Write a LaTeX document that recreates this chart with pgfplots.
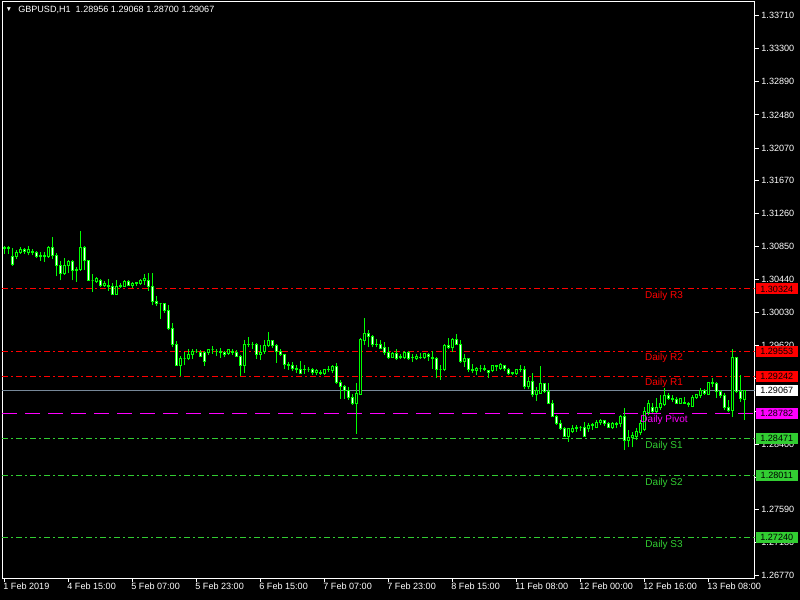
\documentclass[border=0pt]{standalone}
\usepackage{fontspec}
\setmainfont{Liberation Sans}
\usepackage{pgfplots}
\usepackage{pgfplotstable}
\pgfplotsset{compat=1.18}
\definecolor{mtlime}{RGB}{0,255,0}
\definecolor{mtred}{RGB}{255,0,0}
\definecolor{mtmag}{RGB}{255,0,255}
\definecolor{mtgreen}{RGB}{50,205,50}
\definecolor{mtgray}{RGB}{119,136,153}

\pgfplotstableread{
i o h l c
0 1.3082 1.3086 1.3076 1.3084
1 1.3084 1.3085 1.3076 1.3082
2 1.3073 1.3083 1.3061 1.3063
3 1.3072 1.3081 1.3069 1.3077
4 1.3077 1.3084 1.3076 1.3081
5 1.3081 1.3083 1.3076 1.3079
6 1.3078 1.3086 1.3074 1.3081
7 1.3079 1.3082 1.3074 1.3077
8 1.3078 1.3079 1.3071 1.3072
9 1.3072 1.3078 1.3067 1.3074
10 1.3074 1.3078 1.3066 1.3073
11 1.3073 1.3086 1.3071 1.3084
12 1.3084 1.3097 1.3069 1.3074
13 1.3074 1.3077 1.3048 1.3062
14 1.3062 1.3067 1.3043 1.3051
15 1.3051 1.3071 1.3050 1.3062
16 1.3062 1.3068 1.3052 1.3066
17 1.3066 1.3068 1.3043 1.3055
18 1.3055 1.3060 1.3041 1.3057
19 1.3056 1.3104 1.3055 1.3084
20 1.3084 1.3086 1.3056 1.3067
21 1.3067 1.3068 1.3042 1.3043
22 1.3043 1.3051 1.3029 1.3043
23 1.3042 1.3047 1.3040 1.3045
24 1.3043 1.3045 1.3035 1.3037
25 1.3037 1.3042 1.3035 1.3039
26 1.3037 1.3045 1.3030 1.3035
27 1.3035 1.3040 1.3025 1.3026
28 1.3026 1.3043 1.3025 1.3036
29 1.3036 1.3040 1.3034 1.3037
30 1.3036 1.3043 1.3035 1.3042
31 1.3042 1.3043 1.3036 1.3037
32 1.3037 1.3041 1.3034 1.3039
33 1.3039 1.3041 1.3036 1.3040
34 1.3039 1.3045 1.3037 1.3043
35 1.3043 1.3051 1.3037 1.3045
36 1.3043 1.3052 1.3030 1.3036
37 1.3036 1.3052 1.3012 1.3017
38 1.3017 1.3024 1.3011 1.3014
39 1.3014 1.3015 1.2995 1.3014
40 1.3014 1.3015 1.3003 1.3006
41 1.3006 1.3012 1.2981 1.2983
42 1.2983 1.2990 1.2960 1.2963
43 1.2963 1.2968 1.2937 1.2938
44 1.2938 1.2949 1.2924 1.2946
45 1.2946 1.2954 1.2938 1.2946
46 1.2946 1.2958 1.2944 1.2951
47 1.2951 1.2958 1.2946 1.2955
48 1.2955 1.2958 1.2953 1.2955
49 1.2954 1.2957 1.2948 1.2949
50 1.2953 1.2955 1.2937 1.2943
51 1.2954 1.2958 1.2951 1.2957
52 1.2957 1.2962 1.2952 1.2957
53 1.2955 1.2958 1.2949 1.2955
54 1.2955 1.2959 1.2947 1.2953
55 1.2953 1.2955 1.2948 1.2951
56 1.2952 1.2958 1.2951 1.2957
57 1.2955 1.2958 1.2951 1.2954
58 1.2954 1.2957 1.2948 1.2949
59 1.2949 1.2951 1.2924 1.2937
60 1.2937 1.2969 1.2928 1.2964
61 1.2963 1.2973 1.2960 1.2964
62 1.2964 1.2967 1.2958 1.2964
63 1.2964 1.2965 1.2946 1.2951
64 1.2951 1.2963 1.2944 1.2954
65 1.2955 1.2969 1.2952 1.2962
66 1.2962 1.2979 1.2960 1.2968
67 1.2968 1.2969 1.2959 1.2962
68 1.2962 1.2964 1.2941 1.2955
69 1.2955 1.2958 1.2949 1.2951
70 1.2951 1.2952 1.2933 1.2939
71 1.2939 1.2942 1.2932 1.2938
72 1.2938 1.2942 1.2931 1.2934
73 1.2934 1.2938 1.2928 1.2932
74 1.2932 1.2943 1.2927 1.2928
75 1.2932 1.2938 1.2927 1.2933
76 1.2933 1.2936 1.2929 1.2933
77 1.2933 1.2934 1.2926 1.2929
78 1.2929 1.2933 1.2926 1.2931
79 1.2929 1.2932 1.2926 1.2928
80 1.2928 1.2933 1.2926 1.2932
81 1.2932 1.2937 1.2929 1.2933
82 1.2931 1.2938 1.2928 1.2936
83 1.2936 1.2941 1.2915 1.2917
84 1.2917 1.2920 1.2896 1.2911
85 1.2911 1.2913 1.2896 1.2907
86 1.2907 1.2911 1.2895 1.2898
87 1.2898 1.2902 1.2889 1.2890
88 1.2890 1.2916 1.2853 1.2903
89 1.2902 1.2972 1.2901 1.2970
90 1.2969 1.2996 1.2963 1.2977
91 1.2977 1.2981 1.2960 1.2974
92 1.2974 1.2975 1.2960 1.2964
93 1.2964 1.2970 1.2960 1.2963
94 1.2963 1.2969 1.2958 1.2959
95 1.2960 1.2967 1.2951 1.2953
96 1.2953 1.2960 1.2946 1.2947
97 1.2948 1.2954 1.2947 1.2952
98 1.2952 1.2958 1.2944 1.2946
99 1.2947 1.2952 1.2946 1.2949
100 1.2947 1.2955 1.2946 1.2953
101 1.2953 1.2955 1.2944 1.2946
102 1.2947 1.2952 1.2942 1.2948
103 1.2946 1.2952 1.2944 1.2949
104 1.2948 1.2953 1.2946 1.2947
105 1.2948 1.2953 1.2946 1.2952
106 1.2951 1.2953 1.2943 1.2949
107 1.2948 1.2955 1.2933 1.2946
108 1.2946 1.2948 1.2922 1.2933
109 1.2933 1.2938 1.2920 1.2933
110 1.2933 1.2964 1.2931 1.2962
111 1.2962 1.2972 1.2958 1.2960
112 1.2960 1.2972 1.2954 1.2970
113 1.2970 1.2977 1.2963 1.2964
114 1.2964 1.2969 1.2941 1.2942
115 1.2942 1.2952 1.2936 1.2946
116 1.2946 1.2947 1.2929 1.2932
117 1.2932 1.2939 1.2928 1.2931
118 1.2931 1.2936 1.2926 1.2934
119 1.2934 1.2938 1.2929 1.2934
120 1.2934 1.2938 1.2931 1.2933
121 1.2931 1.2932 1.2922 1.2929
122 1.2931 1.2938 1.2929 1.2937
123 1.2936 1.2938 1.2931 1.2937
124 1.2934 1.2941 1.2932 1.2939
125 1.2937 1.2938 1.2931 1.2934
126 1.2933 1.2934 1.2926 1.2927
127 1.2927 1.2929 1.2926 1.2929
128 1.2928 1.2933 1.2926 1.2932
129 1.2932 1.2938 1.2929 1.2933
130 1.2933 1.2937 1.2908 1.2911
131 1.2911 1.2923 1.2908 1.2918
132 1.2918 1.2928 1.2898 1.2901
133 1.2901 1.2911 1.2894 1.2907
134 1.2903 1.2937 1.2903 1.2915
135 1.2915 1.2916 1.2903 1.2905
136 1.2905 1.2916 1.2891 1.2891
137 1.2891 1.2895 1.2874 1.2874
138 1.2874 1.2876 1.2864 1.2866
139 1.2866 1.2870 1.2858 1.2860
140 1.2860 1.2861 1.2849 1.2850
141 1.2850 1.2860 1.2843 1.2859
142 1.2856 1.2864 1.2854 1.2860
143 1.2859 1.2864 1.2855 1.2861
144 1.2861 1.2863 1.2856 1.2861
145 1.2861 1.2867 1.2849 1.2850
146 1.2859 1.2866 1.2855 1.2863
147 1.2863 1.2866 1.2858 1.2864
148 1.2861 1.2870 1.2860 1.2867
149 1.2867 1.2871 1.2864 1.2869
150 1.2869 1.2870 1.2863 1.2866
151 1.2866 1.2867 1.2860 1.2861
152 1.2861 1.2867 1.2859 1.2865
153 1.2865 1.2867 1.2860 1.2864
154 1.2865 1.2876 1.2861 1.2874
155 1.2874 1.2885 1.2833 1.2845
156 1.2845 1.2858 1.2836 1.2848
157 1.2848 1.2855 1.2836 1.2851
158 1.2850 1.2860 1.2845 1.2856
159 1.2855 1.2870 1.2851 1.2866
160 1.2858 1.2886 1.2856 1.2880
161 1.2879 1.2895 1.2876 1.2890
162 1.2886 1.2891 1.2879 1.2880
163 1.2880 1.2897 1.2879 1.2886
164 1.2886 1.2901 1.2882 1.2890
165 1.2889 1.2910 1.2887 1.2900
166 1.2900 1.2903 1.2895 1.2897
167 1.2897 1.2901 1.2892 1.2895
168 1.2895 1.2898 1.2890 1.2891
169 1.2891 1.2897 1.2890 1.2896
170 1.2892 1.2898 1.2890 1.2891
171 1.2891 1.2892 1.2886 1.2889
172 1.2887 1.2901 1.2886 1.2898
173 1.2898 1.2902 1.2896 1.2901
174 1.2900 1.2910 1.2897 1.2907
175 1.2906 1.2908 1.2901 1.2903
176 1.2902 1.2916 1.2901 1.2916
177 1.2916 1.2922 1.2911 1.2915
178 1.2915 1.2917 1.2897 1.2905
179 1.2905 1.2907 1.2897 1.2900
180 1.2900 1.2903 1.2882 1.2885
181 1.2885 1.2895 1.2880 1.2882
182 1.2882 1.2958 1.2874 1.2947
183 1.2947 1.2948 1.2903 1.2905
184 1.2905 1.2926 1.2892 1.2896
185 1.28956 1.29068 1.28700 1.29067
}\candles

\begin{document}
\begin{tikzpicture}[x=1pt,y=1pt]
\fill[black] (0,0) rectangle (600,450);
\path[use as bounding box] (0,0) rectangle (600,450);
\begin{axis}[
  at={(1.5pt,16.125pt)}, anchor=south west,
  scale only axis, width=564.375pt, height=432.375pt,
  xmin=-0.625, xmax=187.5, ymin=1.26735, ymax=1.33880,
  axis line style={white, line width=0.75pt},
  tick align=outside, major tick length=3pt,
  tick style={white, line width=0.75pt},
  xtick pos=bottom, ytick pos=right, yticklabel pos=right,
  xtick={0,16,32,48,64,80,96,112,128,144,160,176},
  xticklabels={1 Feb 2019,4 Feb 15:00,5 Feb 07:00,5 Feb 23:00,6 Feb 15:00,7 Feb 07:00,7 Feb 23:00,8 Feb 15:00,11 Feb 08:00,12 Feb 00:00,12 Feb 16:00,13 Feb 08:00},
  ytick={1.26770,1.27180,1.27590,1.27990,1.28400,1.28800,1.29210,1.29620,1.30030,1.30440,1.30850,1.31260,1.31670,1.32070,1.32480,1.32890,1.33300,1.33710},
  yticklabels={1.26770,1.27180,1.27590,,1.28400,,,1.29620,1.30030,1.30440,1.30850,1.31260,1.31670,1.32070,1.32480,1.32890,1.33300,1.33710},
  xticklabel style={text=white, font=\fontsize{6.8}{8}\selectfont, anchor=north west, inner sep=0pt, xshift=-1pt},
  yticklabel style={text=white, font=\fontsize{6.8}{8}\selectfont, anchor=west, inner sep=0pt, xshift=2pt},
]
% pivot lines
\addplot[mtred, line width=0.75pt, dash pattern=on 4.5pt off 2.25pt on 1.5pt off 2.25pt] coordinates {(-0.625,1.30324) (187.5,1.30324)};
\addplot[mtred, line width=0.75pt, dash pattern=on 4.5pt off 2.25pt on 1.5pt off 2.25pt] coordinates {(-0.625,1.29553) (187.5,1.29553)};
\addplot[mtred, line width=0.75pt, dash pattern=on 4.5pt off 2.25pt on 1.5pt off 2.25pt] coordinates {(-0.625,1.29242) (187.5,1.29242)};
\addplot[mtmag, line width=0.75pt, dash pattern=on 11.25pt off 6pt] coordinates {(-0.625,1.28782) (187.5,1.28782)};
\addplot[mtgreen, line width=0.75pt, dash pattern=on 4.5pt off 2.25pt on 1.5pt off 2.25pt] coordinates {(-0.625,1.28471) (187.5,1.28471)};
\addplot[mtgreen, line width=0.75pt, dash pattern=on 4.5pt off 2.25pt on 1.5pt off 2.25pt] coordinates {(-0.625,1.28011) (187.5,1.28011)};
\addplot[mtgreen, line width=0.75pt, dash pattern=on 4.5pt off 2.25pt on 1.5pt off 2.25pt] coordinates {(-0.625,1.27240) (187.5,1.27240)};
\addplot[mtgray, line width=0.75pt] coordinates {(-0.625,1.29067) (187.5,1.29067)};
% candles, one wick and one body per row of the table
\pgfplotstablegetrowsof{\candles}
\pgfmathtruncatemacro\lastrow{\pgfplotsretval-1}
\pgfplotsforeachungrouped \k in {0,...,\lastrow}{%
  \pgfplotstablegetelem{\k}{i}\of\candles \let\cx\pgfplotsretval
  \pgfplotstablegetelem{\k}{o}\of\candles \let\vo\pgfplotsretval
  \pgfplotstablegetelem{\k}{h}\of\candles \let\vh\pgfplotsretval
  \pgfplotstablegetelem{\k}{l}\of\candles \let\vl\pgfplotsretval
  \pgfplotstablegetelem{\k}{c}\of\candles \let\vc\pgfplotsretval
  \pgfmathsetmacro\xl{\cx-0.25}%
  \pgfmathsetmacro\xr{\cx+0.25}%
  \ifdim\vc pt>\vo pt \def\fc{black}\else\def\fc{white}\fi
  \edef\tmp{%
    \noexpand\addplot[mtlime, line width=0.75pt, forget plot] coordinates {(\cx,\vl) (\cx,\vh)};
    \noexpand\addplot[draw=mtlime, fill=\fc, line width=0.75pt, forget plot] coordinates {(\xl,\vo) (\xr,\vo) (\xr,\vc) (\xl,\vc)} -- cycle;
  }%
  \tmp
}
% labels
\node[text=mtred, font=\fontsize{7.5}{9}\selectfont, yshift=-5.25pt] at (axis cs:164.9,1.30324) {Daily R3};
\node[text=mtred, font=\fontsize{7.5}{9}\selectfont, yshift=-5.25pt] at (axis cs:164.9,1.29553) {Daily R2};
\node[text=mtred, font=\fontsize{7.5}{9}\selectfont, yshift=-5.25pt] at (axis cs:164.9,1.29242) {Daily R1};
\node[text=mtmag, font=\fontsize{7.5}{9}\selectfont, yshift=-5.25pt] at (axis cs:164.9,1.28782) {Daily Pivot};
\node[text=mtgreen, font=\fontsize{7.5}{9}\selectfont, yshift=-5.25pt] at (axis cs:164.9,1.28471) {Daily S1};
\node[text=mtgreen, font=\fontsize{7.5}{9}\selectfont, yshift=-5.25pt] at (axis cs:164.9,1.28011) {Daily S2};
\node[text=mtgreen, font=\fontsize{7.5}{9}\selectfont, yshift=-5.25pt] at (axis cs:164.9,1.27240) {Daily S3};
\coordinate (bR3) at (axis cs:187.5,1.30324);
\coordinate (bR2) at (axis cs:187.5,1.29553);
\coordinate (bR1) at (axis cs:187.5,1.29242);
\coordinate (bCur) at (axis cs:187.5,1.29067);
\coordinate (bP) at (axis cs:187.5,1.28782);
\coordinate (bS1) at (axis cs:187.5,1.28471);
\coordinate (bS2) at (axis cs:187.5,1.28011);
\coordinate (bS3) at (axis cs:187.5,1.27240);
\end{axis}
\tikzset{pbox/.style={anchor=west, inner sep=0pt, minimum width=31.5pt, minimum height=8.25pt, text=black, font=\fontsize{6.8}{8}\selectfont}}
\node[pbox, fill=mtred] at ([xshift=0.75pt]bR3) {1.30324};
\node[pbox, fill=mtred] at ([xshift=0.75pt]bR2) {1.29553};
\node[pbox, fill=mtred] at ([xshift=0.75pt]bR1) {1.29242};
\node[pbox, fill=white] at ([xshift=0.75pt]bCur) {1.29067};
\node[pbox, fill=mtmag] at ([xshift=0.75pt]bP) {1.28782};
\node[pbox, fill=mtgreen] at ([xshift=0.75pt]bS1) {1.28471};
\node[pbox, fill=mtgreen] at ([xshift=0.75pt]bS2) {1.28011};
\node[pbox, fill=mtgreen] at ([xshift=0.75pt]bS3) {1.27240};
\node[text=white, font=\fontsize{5}{6}\selectfont, inner sep=0pt] at (6.75,442.5) {▼};
\node[anchor=west, text=white, font=\fontsize{6.8}{8}\selectfont, inner sep=0pt] at (13.5,442.5) {GBPUSD,H1\ \ 1.28956 1.29068 1.28700 1.29067};
\end{tikzpicture}
\end{document}
